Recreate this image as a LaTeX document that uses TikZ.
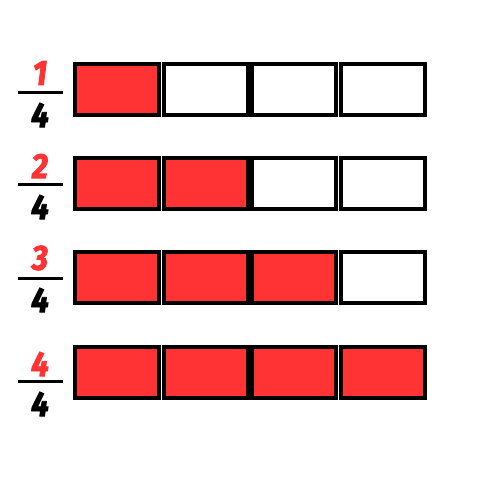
\documentclass[tikz,border=0pt]{standalone}
\usepackage{fontspec}
\newfontfamily\fracfont{Fira Sans}[BoldItalicFeatures={FakeBold=2.5, FakeStretch=0.9}]
\definecolor{fillred}{HTML}{FF3333}
\tikzset{
  cell/.style={draw=black, line width=4pt, minimum width=84pt, minimum height=51pt, inner sep=0pt, anchor=north west},
  num/.style={font=\fracfont\bfseries\itshape\fontsize{35}{35}\selectfont, text=fillred, inner sep=0pt},
  den/.style={font=\fracfont\bfseries\itshape\fontsize{35}{35}\selectfont, text=black, inner sep=0pt},
  bar/.style={line width=3pt, black}
}
\begin{document}
\begin{tikzpicture}[x=1pt,y=-1pt]
\useasboundingbox (0,0) rectangle (500,500);
\foreach \j/\n/\by/\ny/\dy in {0/1/93/73/115, 1/2/184/166/207, 2/3/278/258/300, 3/4/381/364/404} {
  \foreach \i in {0,1,2,3} {
    \pgfmathsetmacro{\xl}{73+88.6*\i}
    \pgfmathsetmacro{\yt}{62+94.2*\j}
    \pgfmathparse{\i<\n ? 1 : 0}
    \ifnum\pgfmathresult=1
      \node[cell, fill=fillred] (c\j\i) at (\xl,\yt) {};
    \else
      \node[cell, fill=white] (c\j\i) at (\xl,\yt) {};
    \fi
  }
  \node[num] (n\j) at (40,\ny) {\n};
  \node[den] (d\j) at (40,\dy) {4};
  \coordinate (bl\j) at (18,\by);
  \coordinate (br\j) at (63,\by);
  \draw[bar] (bl\j) -- (br\j);
}
\end{tikzpicture}
\end{document}
